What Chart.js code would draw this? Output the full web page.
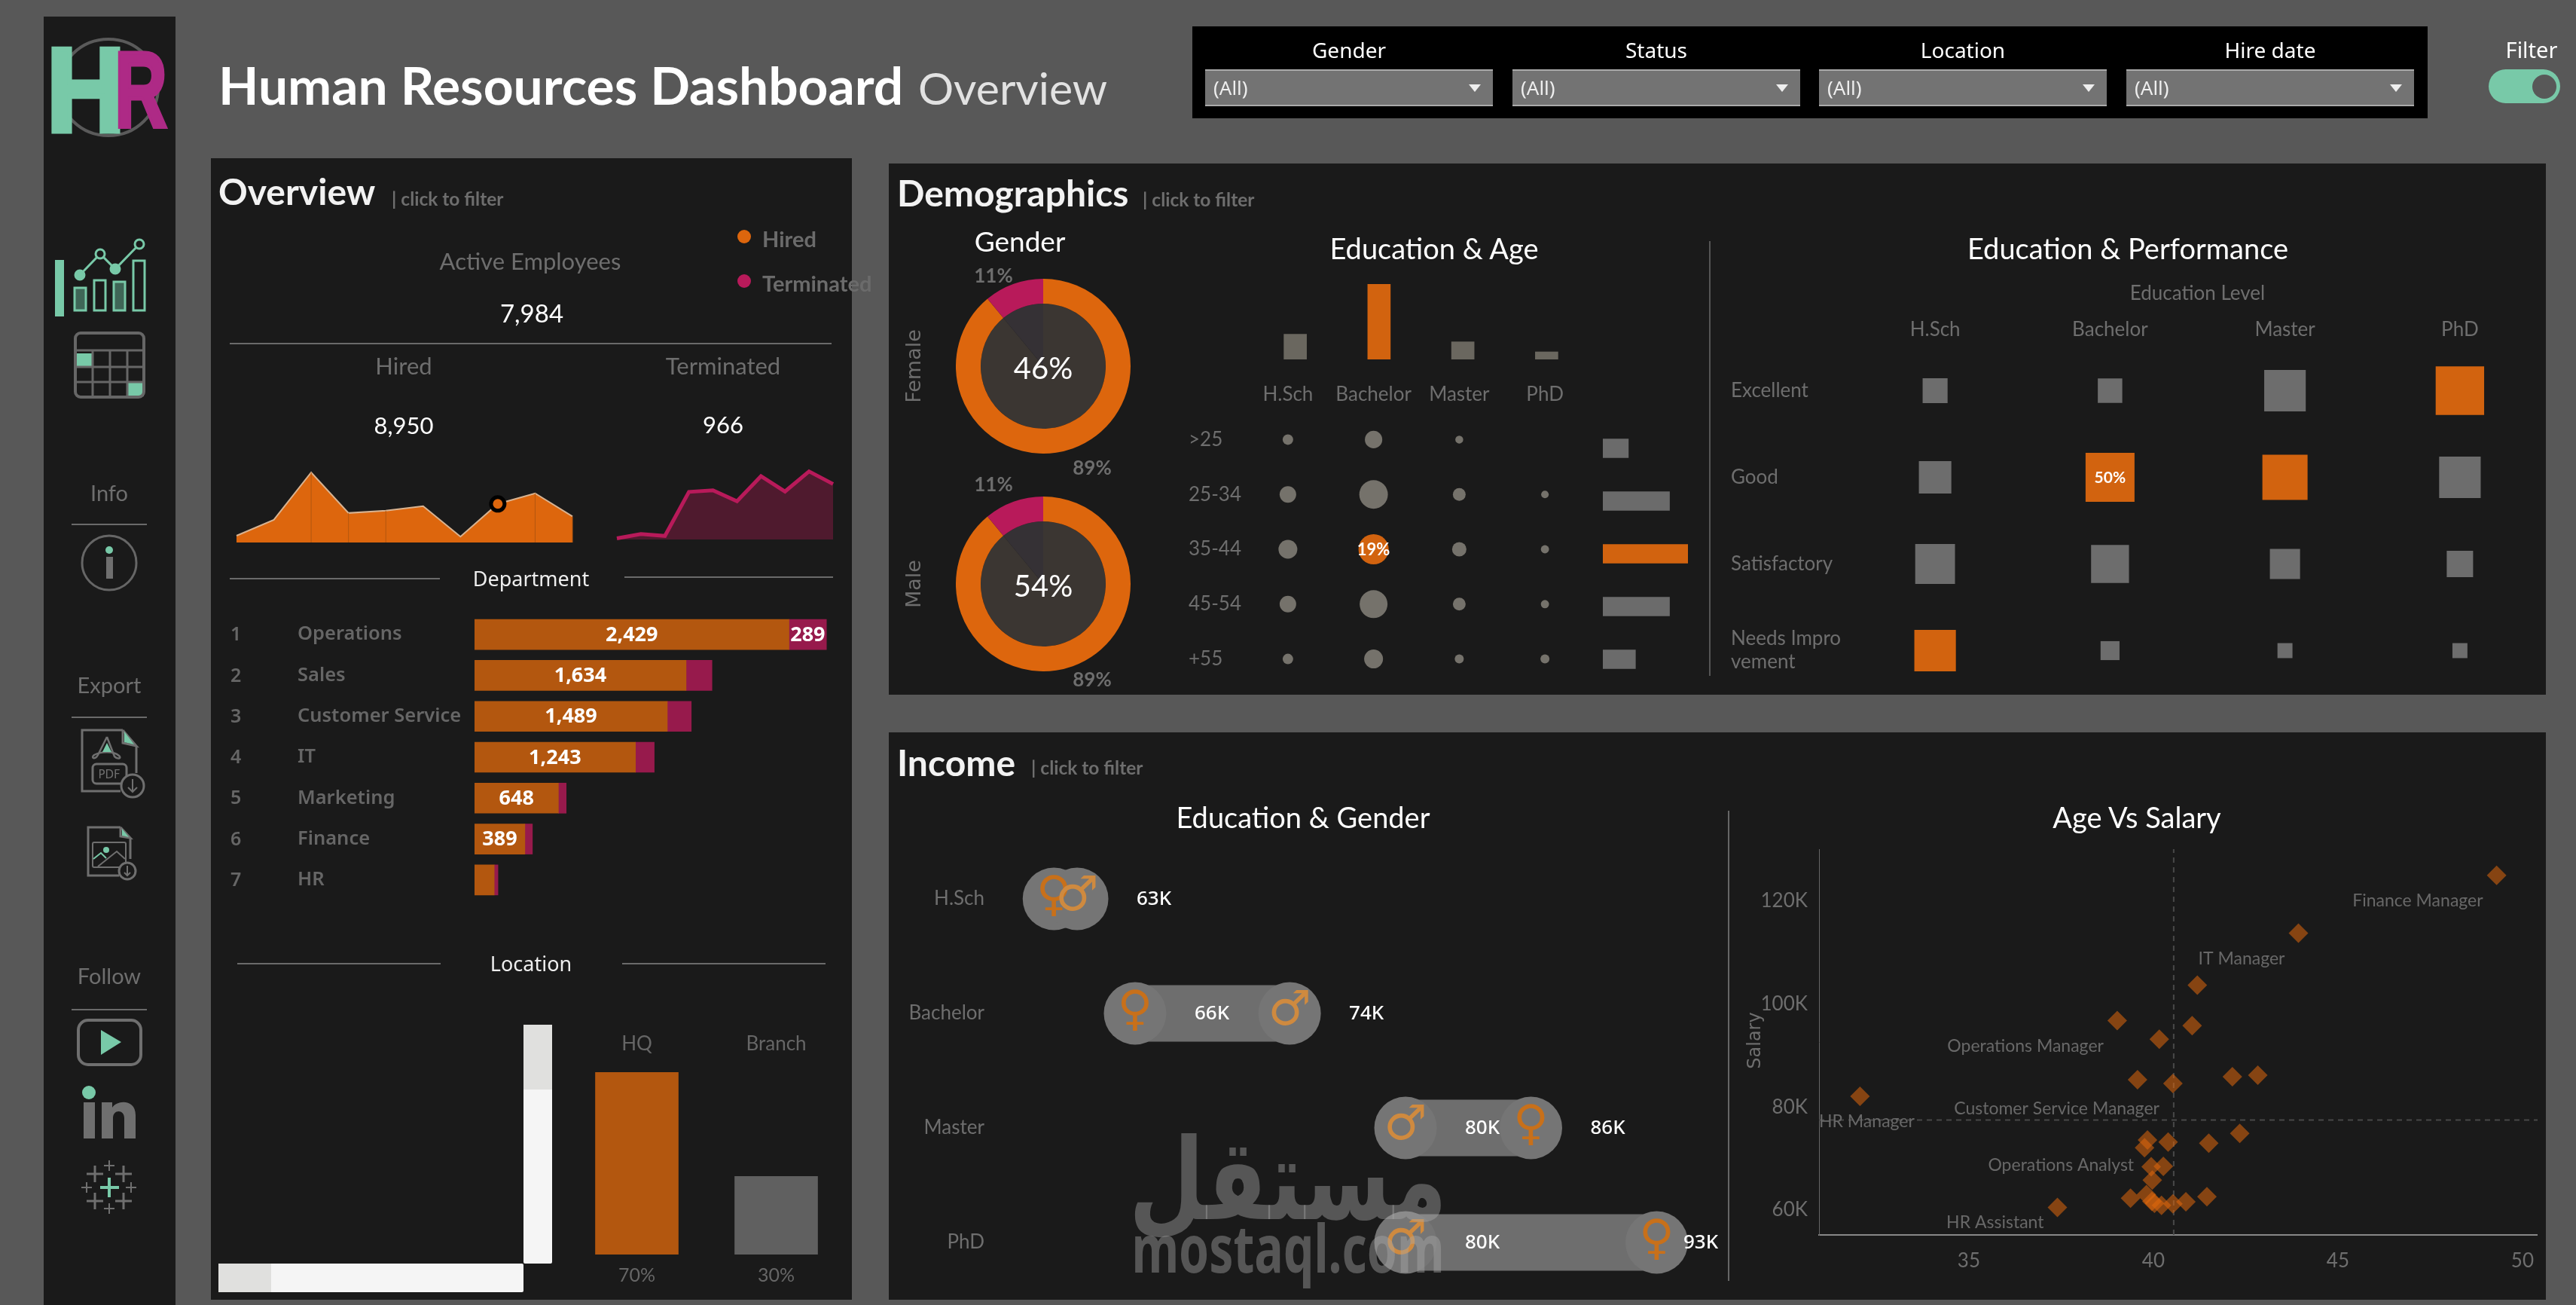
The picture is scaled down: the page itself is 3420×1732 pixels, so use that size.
<!DOCTYPE html>
<html>
<head>
<meta charset="utf-8">
<title>Human Resources Dashboard</title>
<script src="https://cdn.jsdelivr.net/npm/chart.js@4/dist/chart.umd.js"></script>
<style>
  html, body { margin: 0; background: #585858; }
  #page { position: relative; width: 3420px; height: 1732px; overflow: hidden; background: #585858; font-family: Lato, sans-serif; }
  .panel { position: absolute; background: #1a1a1a; }
  .t { position: absolute; white-space: nowrap; line-height: 1; z-index: 5; }
  .rule { position: absolute; background: #6a6a6a; }
  canvas { position: absolute; }
  svg { position: absolute; left: 0; top: 0; z-index: 4; }
  .drop { position: absolute; top: 92px; width: 382px; height: 45px; background: #737373; border-top: 2px solid #aaa; border-bottom: 2px solid #aaa; }
  .drop i { position: absolute; right: 16px; top: 18px; border-left: 8px solid transparent; border-right: 8px solid transparent; border-top: 10px solid #eee; }
</style>
</head>
<body>
<div id="page">
  <div class="panel" style="left:58px;top:22px;width:175px;height:1710px"></div>
  <div class="panel" style="left:280px;top:210px;width:851px;height:1515px"></div>
  <div class="panel" style="left:1180px;top:217px;width:2200px;height:705px"></div>
  <div class="panel" style="left:1180px;top:972px;width:2200px;height:753px"></div>
  <div class="panel" style="left:1583px;top:35px;width:1640px;height:122px;background:#000"></div>

  <!-- toggle -->
  <div class="panel" style="left:3304px;top:92px;width:95px;height:45px;border-radius:23px;background:#78c9a8"></div>
  <div class="panel" style="left:3362px;top:99px;width:32px;height:32px;border-radius:50%;background:#585858"></div>

  <!-- scroll bars of the location list -->
  <div class="panel" style="left:695px;top:1360px;width:38px;height:317px;background:#f5f5f5;border-radius:2px"></div>
  <div class="panel" style="left:695px;top:1360px;width:38px;height:86px;background:#e0e0de"></div>
  <div class="panel" style="left:290px;top:1677px;width:405px;height:38px;background:#f5f5f5;border-radius:2px"></div>
  <div class="panel" style="left:290px;top:1677px;width:70px;height:38px;background:#e0e0de"></div>

  <svg width="3420" height="1732" fill="none">
    <!-- logo -->
    <ellipse cx="144" cy="116" rx="66" ry="64" stroke="#5a5a5a" stroke-width="4"/>
    <text x="62" y="174" font-family="Liberation Sans" font-weight="700" font-size="158" fill="#78c9a8" stroke="#78c9a8" stroke-width="7" textLength="104" lengthAdjust="spacingAndGlyphs">H</text>
    <text x="152" y="168" font-family="Liberation Sans" font-weight="700" font-size="143" fill="#ae2a86" stroke="#ae2a86" stroke-width="5" textLength="70" lengthAdjust="spacingAndGlyphs">R</text>

    <!-- dashboard icon -->
    <rect x="73" y="345" width="12" height="75" fill="#78c9a8"/>
    <g stroke="#78c9a8" stroke-width="3">
      <rect x="99" y="382" width="15" height="30" fill="#3f6657"/>
      <rect x="125" y="372" width="15" height="40"/>
      <rect x="151" y="374" width="15" height="38" fill="#3f6657"/>
      <rect x="177" y="346" width="15" height="66"/>
      <polyline points="106,365 133,337 153,357 185,324"/>
      <circle cx="106" cy="365" r="6" fill="#78c9a8"/>
      <circle cx="133" cy="337" r="6" fill="#1a1a1a"/>
      <circle cx="153" cy="357" r="6" fill="#78c9a8"/>
      <circle cx="185" cy="324" r="6" fill="#1a1a1a"/>
    </g>

    <!-- calendar icon -->
    <rect x="101" y="469" width="21" height="17" fill="#78c9a8"/>
    <rect x="169" y="508" width="22" height="18" fill="#78c9a8"/>
    <rect x="100" y="442" width="91" height="85" rx="7" stroke="#666" stroke-width="4"/>
    <path d="M100 465H191M100 487H191M100 507H191M123 465V527M146 465V527M169 465V527" stroke="#666" stroke-width="3"/>

    <!-- info icon -->
    <circle cx="145" cy="747" r="36" stroke="#666" stroke-width="3"/>
    <circle cx="145" cy="730" r="5" fill="#78c9a8"/>
    <rect x="141" y="739" width="9" height="29" fill="#6f6f6f"/>

    <!-- pdf export icon -->
    <path d="M163 969H109V1050H160M181 990V1026M163 969V986L181 990L163 969" stroke="#6f6f6f" stroke-width="3"/>
    <path d="M165 971V985L178 988Z" fill="#78c9a8"/>
    <rect x="123" y="1014" width="45" height="26" rx="5" stroke="#6f6f6f" stroke-width="3"/>
    <text x="145" y="1033" text-anchor="middle" font-family="DejaVu Sans" font-size="15" fill="#6f6f6f">PDF</text>
    <path d="M142 978L130 1002C126 1009 120 1006 125 1002C132 998 150 996 158 1003C162 1007 156 1008 152 1004L142 978" stroke="#6f6f6f" stroke-width="2.5"/>
    <path d="M142 986L136 998H148Z" fill="#78c9a8"/>
    <circle cx="176" cy="1043" r="15" fill="#1a1a1a" stroke="#6f6f6f" stroke-width="3"/>
    <path d="M176 1034V1051M170 1045L176 1051L182 1045" stroke="#6f6f6f" stroke-width="2"/>

    <!-- image export icon -->
    <path d="M160 1098H117V1162H158M173 1112V1140M160 1098V1110L173 1112L160 1098" stroke="#6f6f6f" stroke-width="3"/>
    <path d="M162 1100V1109L171 1111Z" fill="#78c9a8"/>
    <rect x="123" y="1118" width="44" height="33" rx="2" stroke="#6f6f6f" stroke-width="2"/>
    <circle cx="141" cy="1128" r="4" fill="#78c9a8"/>
    <path d="M124 1140L134 1132L141 1139" stroke="#78c9a8" stroke-width="2"/>
    <path d="M130 1150L155 1130L166 1140" stroke="#6f6f6f" stroke-width="2"/>
    <circle cx="169" cy="1156" r="11" fill="#1a1a1a" stroke="#6f6f6f" stroke-width="3"/>
    <path d="M169 1149V1162M165 1158L169 1162L173 1158" stroke="#6f6f6f" stroke-width="2"/>

    <!-- social icons -->
    <rect x="104" y="1354" width="83" height="59" rx="13" stroke="#6f6f6f" stroke-width="4"/>
    <path d="M134 1367V1400L161 1383Z" fill="#78c9a8"/>
    <ellipse cx="118" cy="1450" rx="9" ry="9" fill="#78c9a8"/>
    <rect x="111" y="1463" width="15" height="48" fill="#6f6f6f"/>
    <path d="M135 1463H149V1470C155 1460 180 1458 180 1480V1511H165V1484C165 1472 150 1472 150 1484V1511H135Z" fill="#6f6f6f"/>
    <path d="M133 1576H158M145 1563V1589" stroke="#78c9a8" stroke-width="4"/>
    <path d="M115 1558H137M126 1547V1569M153 1558H175M164 1547V1569M115 1594H137M126 1583V1605M153 1594H175M164 1583V1605" stroke="#6f6f6f" stroke-width="3"/>
    <path d="M138 1547H152M145 1540V1554M138 1604H152M145 1597V1611M108 1576H122M115 1569V1583M167 1576H181M174 1569V1583" stroke="#6f6f6f" stroke-width="2"/>
  </svg>
</div>

<script>
// dashboard figures
const activeEmployees = 7984;
const hiredTotal = 8950;
const terminatedTotal = 966;

const years = ['2016', '2017', '2018', '2019', '2020', '2021', '2022', '2023', '2024', '2025'];
const hiredByYear = [192, 641, 1979, 833, 898, 1026, 167, 1090, 1389, 735];
const terminatedByYear = [3, 14, 9, 121, 125, 97, 161, 122, 173, 141];

const departments = ['Operations', 'Sales', 'Customer Service', 'IT', 'Marketing', 'Finance', 'HR'];
const deptActive = [2429, 1634, 1489, 1243, 648, 389, 152];
const deptTerminated = [289, 200, 185, 145, 60, 58, 29];

const locations = ['HQ', 'Branch'];
const locationShare = [70, 30];

const genders = ['Female', 'Male'];
const genderShare = [46, 54];
const genderHiredPct = [89, 89];
const genderTerminatedPct = [11, 11];

const educationLevels = ['H.Sch', 'Bachelor', 'Master', 'PhD'];
const educationTotals = [20, 60, 14, 6];
const ageBands = ['>25', '25-34', '35-44', '45-54', '+55'];
const ageTotals = [9, 23.5, 30, 23.5, 11.5];
const eduAgeShare = [
  [2.3, 6.3, 1.3, 0],
  [5.7, 17, 3.4, 1.2],
  [7.4, 19, 4.3, 1.4],
  [5.7, 16.2, 3.4, 1.4],
  [2.3, 7.4, 1.7, 1.7]
];

const performanceLevels = ['Excellent', 'Good', 'Satisfactory', ['Needs Impro', 'vement']];
const eduPerfShare = [
  [13, 12.5, 36, 49],
  [22, 50, 42.6, 36],
  [33, 30, 19, 14.5],
  [36, 7.5, 4.7, 4.7]
];

const femaleSalary = [61.8, 66, 86.49, 93];
const maleSalary = [63, 74, 80, 80];

const ages = [49.3, 43.93, 41.19, 39.02, 41.05, 40.16, 39.57, 40.53, 42.14, 42.83, 32.05, 42.34, 41.5, 40.4, 39.84, 39.76, 39.94, 40.27, 39.97, 39.81, 39.38, 41.45, 40.88, 40.53, 40.22, 40.03, 39.96, 37.4];
const salaries = [125, 113.8, 103.7, 96.8, 95.8, 93.2, 85.3, 84.6, 85.9, 86.2, 82.1, 74.9, 73, 73.2, 73.6, 72.1, 68.4, 68.5, 65.8, 63, 62.3, 62.6, 61.6, 61.2, 60.9, 61.3, 61.7, 60.5];
const jobLabels = { 0: 'Finance Manager', 1: 'IT Manager', 3: 'Operations Manager', 7: 'Customer Service Manager', 10: 'HR Manager', 14: 'Operations Analyst', 27: 'HR Assistant' };
const ageTicks = [35, 40, 45, 50];
const salaryTicks = [60, 80, 100, 120];
const avgAge = 40.55;
const avgSalary = 77.5;

const filterNames = ['Gender', 'Status', 'Location', 'Hire date'];

const ORANGE = '#dd660d';
const ORANGE_BAR = '#b3570f';
const ORANGE_MARK = '#d2630f';
const CRIMSON = '#b81a5a';
const GRAY_TEXT = '#6e6e6e';
const page = document.getElementById('page');

Chart.defaults.animation = false;
Chart.defaults.responsive = false;
Chart.defaults.maintainAspectRatio = false;
Chart.defaults.devicePixelRatio = 1;
Chart.defaults.events = [];
Chart.defaults.layout.autoPadding = false;
Chart.defaults.font.family = 'Lato';
Chart.defaults.font.size = 26;
Chart.defaults.color = GRAY_TEXT;
Chart.defaults.plugins.legend.display = false;
Chart.defaults.plugins.tooltip.enabled = false;
Chart.defaults.scale.grid.display = false;
Chart.defaults.scale.grid.drawTicks = false;
Chart.defaults.scale.border.display = false;

function label(text, x, y, o = {}) {
  const el = document.createElement('div');
  const shift = { left: 0, center: -50, right: -100 }[o.align || 'center'];
  el.className = 't';
  el.textContent = text;
  el.style.left = x + 'px';
  el.style.top = (y - 1) + 'px';
  el.style.fontSize = (o.size || 26) + 'px';
  el.style.color = o.color || GRAY_TEXT;
  el.style.fontWeight = o.weight || 400;
  el.style.fontFamily = o.font || 'Lato';
  el.style.transform = `translate(${shift}%, -50%)`
    + (o.rotate ? ` rotate(${o.rotate}deg)` : '')
    + (o.squeeze ? ` scaleX(${o.squeeze})` : '');
  page.appendChild(el);
  return el;
}

function rule(x, y, w, h, color) {
  const el = document.createElement('div');
  el.className = 'rule';
  el.style.cssText = `left:${x}px;top:${y}px;width:${w}px;height:${h}px;background:${color || '#6a6a6a'}`;
  page.appendChild(el);
}

function box(x0, y0, x1, y1) {
  const c = document.createElement('canvas');
  c.width = x1 - x0;
  c.height = y1 - y0;
  c.style.left = x0 + 'px';
  c.style.top = y0 + 'px';
  page.appendChild(c);
  return c.getContext('2d');
}

// pins an axis to a fixed thickness and drops the margin it asks for around its labels
function fixAxis(size) {
  return s => {
    if (s.isHorizontal()) s.height = size; else s.width = size;
    s.paddingLeft = s.paddingRight = s.paddingTop = s.paddingBottom = 0;
  };
}

const maxOf = arr => Math.max.apply(null, arr);

// ---- header ----
label('Human Resources Dashboard', 290, 114, { align: 'left', size: 69.5, weight: 700, color: '#fff' });
label('Overview', 1219, 117, { align: 'left', size: 59, color: '#e2e2e2' });

const dropX = [1600, 2008, 2415, 2823];
filterNames.forEach((name, i) => {
  const d = document.createElement('div');
  d.className = 'drop';
  d.style.left = dropX[i] + 'px';
  d.innerHTML = '<i></i>';
  page.appendChild(d);
  label(name, dropX[i] + 191, 67, { size: 28, color: '#fff', font: 'Noto Sans' });
  label('(All)', dropX[i] + 11, 117, { align: 'left', size: 26, color: '#eee', font: 'Noto Sans' });
});
label('Filter', 3361, 66, { size: 29, color: '#fff', font: 'Noto Sans' });

// ---- sidebar captions ----
label('Info', 145, 654, { size: 29 });
rule(95, 695, 100, 2);
label('Export', 145, 909, { size: 29 });
rule(95, 951, 100, 2);
label('Follow', 145, 1295, { size: 29 });
rule(95, 1339, 100, 2);

// ---- section headers ----
[['Overview', 290, 255, 520, 265], ['Demographics', 1191, 257, 1517, 266], ['Income', 1191, 1013, 1369, 1020]].forEach(h => {
  label(h[0], h[1], h[2], { align: 'left', size: 48, weight: 700, color: '#f2f2f2' });
  label('| click to filter', h[3], h[4], { align: 'left', size: 24.5, weight: 700 });
});

// ---- overview figures ----
label('Active Employees', 704, 347, { size: 31 });
label(activeEmployees.toLocaleString('en-US'), 706, 416, { size: 33, color: '#fff' });
rule(305, 455, 799, 2);
label('Hired', 536, 486, { size: 31 });
label('Terminated', 960, 486, { size: 31 });
label(hiredTotal.toLocaleString('en-US'), 536, 565, { size: 31, color: '#fff' });
label(String(terminatedTotal), 960, 564, { size: 31, color: '#fff' });

[[314, 'Hired', ORANGE], [373, 'Terminated', CRIMSON]].forEach(l => {
  const dot = document.createElement('div');
  dot.className = 'rule';
  dot.style.cssText = `left:979px;top:${l[0] - 9}px;width:18px;height:18px;border-radius:50%;background:${l[2]}`;
  page.appendChild(dot);
  label(l[1], 1012, l[0] + 3, { align: 'left', size: 29, weight: 700, color: '#6b6b6b' });
});

// thin drop lines under selected points of the area chart
const dropLines = {
  id: 'dropLines',
  afterDatasetsDraw(chart, args, opts) {
    const { ctx, chartArea } = chart;
    const pts = chart.getDatasetMeta(0).data;
    ctx.save();
    ctx.strokeStyle = opts.color || ORANGE_BAR;
    ctx.lineWidth = 1;
    (opts.at || []).forEach(i => {
      ctx.beginPath();
      ctx.moveTo(pts[i].x, pts[i].y);
      ctx.lineTo(pts[i].x, chartArea.bottom);
      ctx.stroke();
    });
    ctx.restore();
  }
};

const sparkOptions = (max, at) => ({
  layout: { padding: 14 },
  plugins: { dropLines: { at } },
  scales: {
    x: { display: false, offset: false },
    y: { display: false, min: 0, max }
  }
});

const selectedYear = 7;
new Chart(box(300, 612, 774, 734), {
  type: 'line',
  data: {
    labels: years,
    datasets: [{
      data: hiredByYear,
      fill: 'origin',
      tension: 0,
      backgroundColor: ORANGE,
      borderColor: '#d8b391',
      borderWidth: 2,
      clip: false,
      pointRadius: ctx => ctx.dataIndex === selectedYear ? 9 : 0,
      pointBackgroundColor: ORANGE,
      pointBorderColor: '#000',
      pointBorderWidth: 5
    }]
  },
  options: sparkOptions(2000, [2, 3, 4, 8, 9]),
  plugins: [dropLines]
});

new Chart(box(805, 608, 1120, 730), {
  type: 'line',
  data: {
    labels: years,
    datasets: [{
      data: terminatedByYear,
      fill: 'origin',
      tension: 0,
      backgroundColor: '#4f1a2e',
      borderColor: CRIMSON,
      borderWidth: 5,
      clip: false,
      pointRadius: 0
    }]
  },
  options: sparkOptions(180, []),
  plugins: [dropLines]
});

// ---- department ----
label('Department', 705, 768, { size: 27, color: '#eee', font: 'Noto Sans' });
rule(305, 767, 279, 2);
rule(829, 765, 277, 2);

const deptValueLabels = {
  id: 'deptValueLabels',
  afterDatasetsDraw(chart) {
    const { ctx, scales } = chart;
    ctx.save();
    ctx.textBaseline = 'middle';
    // rank column in front of the department names
    ctx.font = '600 25px "Noto Sans"';
    ctx.fillStyle = '#666';
    ctx.textAlign = 'left';
    departments.forEach((d, i) => ctx.fillText(String(i + 1), 6, scales.y.getPixelForValue(i) + 1));
    // values only where they fit in the segment
    ctx.font = '700 27px "Noto Sans"';
    ctx.fillStyle = '#fff';
    ctx.textAlign = 'center';
    chart.data.datasets.forEach((ds, d) => {
      chart.getDatasetMeta(d).data.forEach((bar, i) => {
        const width = Math.abs(bar.x - bar.base);
        if (width >= 45) ctx.fillText(ds.data[i].toLocaleString('en-US'), bar.x - width / 2, bar.y + 1);
      });
    });
    ctx.restore();
  }
};

new Chart(box(300, 815, 1104, 1195), {
  type: 'bar',
  data: {
    labels: departments,
    datasets: [
      { data: deptActive, backgroundColor: ORANGE_BAR, barThickness: 40 },
      { data: deptTerminated, backgroundColor: '#971a4c', barThickness: 40 }
    ]
  },
  options: {
    indexAxis: 'y',
    layout: { padding: { left: 95, right: 3 } },
    scales: {
      x: { display: false, stacked: true, min: 0, max: 2740 },
      y: {
        stacked: true,
        afterFit: fixAxis(235),
        ticks: { crossAlign: 'far', color: '#666', autoSkip: false, font: { family: 'Noto Sans', size: 25.5, weight: 600 } }
      }
    }
  },
  plugins: [deptValueLabels]
});

// ---- location ----
label('Location', 705, 1279, { size: 27, color: '#eee', font: 'Noto Sans' });
rule(315, 1278, 270, 2);
rule(826, 1278, 270, 2);

new Chart(box(753, 1365, 1123, 1712), {
  type: 'bar',
  data: {
    labels: locations,
    datasets: [{
      data: locationShare,
      backgroundColor: locationShare.map(v => v === maxOf(locationShare) ? ORANGE_BAR : '#606060'),
      barThickness: 110
    }]
  },
  options: {
    scales: {
      x: {
        position: 'top',
        afterFit: fixAxis(58),
        ticks: { padding: 22, color: '#666', font: { size: 26 } }
      },
      x2: {
        axis: 'x',
        type: 'category',
        position: 'bottom',
        offset: true,
        labels: locationShare.map(v => v + '%'),
        afterFit: fixAxis(47),
        ticks: { padding: 13, color: '#666', font: { size: 25 } }
      },
      y: { display: false, min: 0, max: 70 }
    }
  }
});

// ---- gender doughnuts ----
label('Gender', 1354, 320, { size: 37, color: '#fff' });
const donutCentreY = [487, 776];
const shareLabelY = [[366, 621], [643, 902]];
genders.forEach((g, i) => {
  const cy = donutCentreY[i];
  new Chart(box(1269, cy - 117, 1501, cy + 115), {
    type: 'doughnut',
    data: {
      labels: ['Hired', 'Terminated'],
      datasets: [
        { data: [genderHiredPct[i], genderTerminatedPct[i]], backgroundColor: [ORANGE, CRIMSON], borderWidth: 0, weight: 33 },
        { data: [genderHiredPct[i], genderTerminatedPct[i]], backgroundColor: ['#3b3632', '#353135'], borderWidth: 0, weight: 83 }
      ]
    },
    options: { cutout: 0 }
  });
  label(genderShare[i] + '%', 1385, cy + 2, { size: 40, color: '#fff' });
  label(genderTerminatedPct[i] + '%', 1319, shareLabelY[i][0], { size: 26, weight: 700 });
  label(genderHiredPct[i] + '%', 1450, shareLabelY[i][1], { size: 26, weight: 700 });
  label(g, 1212, cy, { size: 27, font: 'DejaVu Sans', rotate: -90 });
});

// ---- education & age ----
label('Education & Age', 1904, 330, { size: 38, color: '#fff' });
rule(2269, 320, 2, 577, '#555');

const isMax = (v, arr) => v === maxOf(arr);

// top bars
new Chart(box(1664, 377, 2109, 477), {
  type: 'bar',
  data: {
    labels: educationLevels,
    datasets: [{
      data: educationTotals,
      backgroundColor: educationTotals.map(v => isMax(v, educationTotals) ? ORANGE_MARK : '#6a675f'),
      barThickness: 30
    }]
  },
  options: { scales: { x: { display: false }, y: { display: false, min: 0, max: 60 } } }
});

// side bars
new Chart(box(2128, 560, 2241, 910), {
  type: 'bar',
  data: {
    labels: ageBands,
    datasets: [{
      data: ageTotals,
      backgroundColor: ageTotals.map(v => isMax(v, ageTotals) ? ORANGE_MARK : '#6b6b6b'),
      barThickness: 25
    }]
  },
  options: { indexAxis: 'y', scales: { x: { display: false, min: 0, max: 30 }, y: { display: false } } }
});

// percentage printed on the single largest mark of a matrix
const peakLabel = {
  id: 'peakLabel',
  afterDatasetsDraw(chart, args, opts) {
    const { ctx } = chart;
    const ds = chart.data.datasets[0];
    const top = maxOf(ds.data.map(d => d.v));
    ctx.save();
    ctx.font = `700 ${opts.size}px Lato`;
    ctx.fillStyle = '#fff';
    ctx.textAlign = 'center';
    ctx.textBaseline = 'middle';
    chart.getDatasetMeta(0).data.forEach((el, i) => {
      if (ds.data[i].v === top) ctx.fillText(top + '%', el.x, el.y + 1);
    });
    ctx.restore();
  }
};

const eduAgeCells = [];
eduAgeShare.forEach((row, r) => row.forEach((v, c) => {
  if (v > 0) eduAgeCells.push({ x: educationLevels[c], y: ageBands[r], v, r: 4.6 * Math.sqrt(v) });
}));
const eduAgeTop = maxOf(eduAgeCells.map(d => d.v));

new Chart(box(1578, 500, 2108, 911), {
  type: 'bubble',
  data: {
    datasets: [{
      data: eduAgeCells,
      backgroundColor: eduAgeCells.map(d => d.v === eduAgeTop ? ORANGE_MARK : '#75726b'),
      borderWidth: 0,
      clip: false
    }]
  },
  options: {
    plugins: { peakLabel: { size: 22 } },
    scales: {
      x: {
        type: 'category',
        position: 'top',
        labels: educationLevels,
        offset: true,
        afterFit: fixAxis(47),
        ticks: { padding: 8, autoSkip: false, maxRotation: 0 }
      },
      y: {
        type: 'category',
        labels: ageBands,
        offset: true,
        afterFit: fixAxis(75),
        ticks: { crossAlign: 'far', autoSkip: false }
      }
    }
  },
  plugins: [peakLabel]
});

// ---- education & performance ----
label('Education & Performance', 2825, 330, { size: 38, color: '#fff' });

const eduPerfCells = [];
eduPerfShare.forEach((row, r) => row.forEach((v, c) => {
  const column = eduPerfShare.map(rw => rw[c]);
  eduPerfCells.push({ x: educationLevels[c], y: performanceLevels[r].toString(), v, r: 6.5 * Math.sqrt(v), peak: v === maxOf(column) });
}));

new Chart(box(2298, 365, 3382, 921), {
  type: 'bubble',
  data: {
    datasets: [{
      data: eduPerfCells,
      pointStyle: 'rect',
      backgroundColor: eduPerfCells.map(d => d.peak ? ORANGE_MARK : '#6d6d6d'),
      borderWidth: 0,
      clip: false
    }]
  },
  options: {
    plugins: { peakLabel: { size: 21 } },
    scales: {
      x: {
        type: 'category',
        position: 'top',
        labels: educationLevels,
        offset: true,
        title: { display: true, text: 'Education Level', color: GRAY_TEXT, font: { size: 26 }, padding: { top: 9, bottom: 0 } },
        afterFit: fixAxis(96),
        ticks: { padding: 8, autoSkip: false, maxRotation: 0 }
      },
      y: {
        type: 'category',
        labels: performanceLevels.map(String),
        offset: true,
        afterFit: fixAxis(155),
        ticks: {
          crossAlign: 'far',
          autoSkip: false,
          callback: (v, i) => performanceLevels[i]
        }
      }
    }
  },
  plugins: [peakLabel]
});

// ---- income by education & gender ----
label('Education & Gender', 1730, 1085, { size: 38, color: '#fff' });
rule(2294, 1076, 2, 624, '#666');

const dumbbellMarks = {
  id: 'dumbbellMarks',
  afterDatasetsDraw(chart) {
    const { ctx } = chart;
    const limit = 2258 - 1195;
    ctx.save();
    ctx.textAlign = 'center';
    ctx.textBaseline = 'middle';
    chart.data.datasets.forEach((ds, d) => {
      const pts = chart.getDatasetMeta(d).data;
      pts.forEach((el, i) => {
        ctx.font = '64px "DejaVu Sans"';
        ctx.fillStyle = i === 0 ? '#c8701a' : '#cf8a3f';
        ctx.fillText(i === 0 ? '\u2640' : '\u2642', el.x, el.y - 2);
      });
      const gap = Math.abs(pts[0].x - pts[1].x);
      ctx.font = '500 26px "Noto Sans"';
      ctx.fillStyle = '#fff';
      pts.forEach((el, i) => {
        const other = pts[1 - i];
        const isHigh = el.x >= other.x;
        if (isHigh || gap > 100) {
          ctx.fillText(Math.round(ds.data[i].x) + 'K', Math.min(el.x + 102, limit), el.y + 1);
        }
      });
    });
    ctx.restore();
  }
};

new Chart(box(1195, 1117, 2290, 1725), {
  type: 'scatter',
  data: {
    datasets: educationLevels.map((lvl, i) => ({
      data: [{ x: femaleSalary[i], y: lvl }, { x: maleSalary[i], y: lvl }],
      showLine: true,
      borderColor: '#6e6e6e',
      borderWidth: 75,
      borderCapStyle: 'butt',
      pointRadius: 41.5,
      pointBackgroundColor: '#757575',
      pointBorderWidth: 0,
      clip: false
    }))
  },
  options: {
    scales: {
      x: { type: 'linear', display: false, min: 58.71, max: 96.53 },
      y: {
        type: 'category',
        labels: educationLevels,
        offset: true,
        afterFit: fixAxis(125),
        ticks: { padding: 13, autoSkip: false }
      }
    }
  },
  plugins: [dumbbellMarks]
});

// ---- age vs salary ----
label('Age Vs Salary', 2837, 1085, { size: 38, color: '#fff' });
label('Salary', 2329, 1382, { size: 24, font: 'DejaVu Sans', rotate: -90 });

const jobLabelPlugin = {
  id: 'jobLabelPlugin',
  afterDatasetsDraw(chart) {
    const { ctx, chartArea } = chart;
    const pts = chart.getDatasetMeta(2).data;
    ctx.save();
    ctx.font = '23px Lato';
    ctx.fillStyle = '#686868';
    ctx.textAlign = 'left';
    ctx.textBaseline = 'middle';
    Object.keys(jobLabels).forEach(i => {
      const w = ctx.measureText(jobLabels[i]).width;
      const x = Math.max(pts[i].x - 18 - w, chartArea.left);
      const y = Math.min(pts[i].y + 34, chartArea.bottom - 16);
      ctx.fillText(jobLabels[i], x, y);
    });
    ctx.restore();
  }
};

const ageRange = [30.94, 50.41];
const salaryRange = [55.17, 130.1];
const avgLine = points => ({
  data: points,
  showLine: true,
  pointRadius: 0,
  borderColor: '#484848',
  borderWidth: 2,
  borderDash: [7, 6],
  clip: false
});

new Chart(box(2340, 1127, 3369, 1700), {
  type: 'scatter',
  data: {
    datasets: [
      avgLine([{ x: avgAge, y: salaryRange[0] }, { x: avgAge, y: salaryRange[1] }]),
      avgLine([{ x: ageRange[0], y: avgSalary }, { x: ageRange[1], y: avgSalary }]),
      {
        data: ages.map((a, i) => ({ x: a, y: salaries[i] })),
        pointStyle: 'rectRot',
        pointRadius: 13,
        pointBackgroundColor: 'rgba(224,103,13,0.55)',
        pointBorderWidth: 0,
        order: -1,
        clip: false
      }
    ]
  },
  options: {
    scales: {
      x: {
        type: 'linear',
        min: ageRange[0],
        max: ageRange[1],
        border: { display: true, color: '#888', width: 2 },
        afterBuildTicks: s => { s.ticks = ageTicks.map(v => ({ value: v })); },
        afterFit: fixAxis(61),
        ticks: { padding: 19, autoSkip: false, maxRotation: 0 }
      },
      y: {
        type: 'linear',
        min: salaryRange[0],
        max: salaryRange[1],
        border: { display: true, color: '#666', width: 1 },
        afterBuildTicks: s => { s.ticks = salaryTicks.map(v => ({ value: v })); },
        afterFit: fixAxis(75),
        ticks: { padding: 15, callback: v => v + 'K' }
      }
    }
  },
  plugins: [jobLabelPlugin]
});

// ---- site mark ----
label('مستقل', 1710, 1567, { size: 150, weight: 700, font: 'DejaVu Sans', color: 'rgba(170,170,170,0.42)', squeeze: 0.77 });
label('mostaql.com', 1710, 1656, { size: 88, weight: 700, font: 'Noto Sans', color: 'rgba(170,170,170,0.42)', squeeze: 0.73 });
</script>
</body>
</html>
